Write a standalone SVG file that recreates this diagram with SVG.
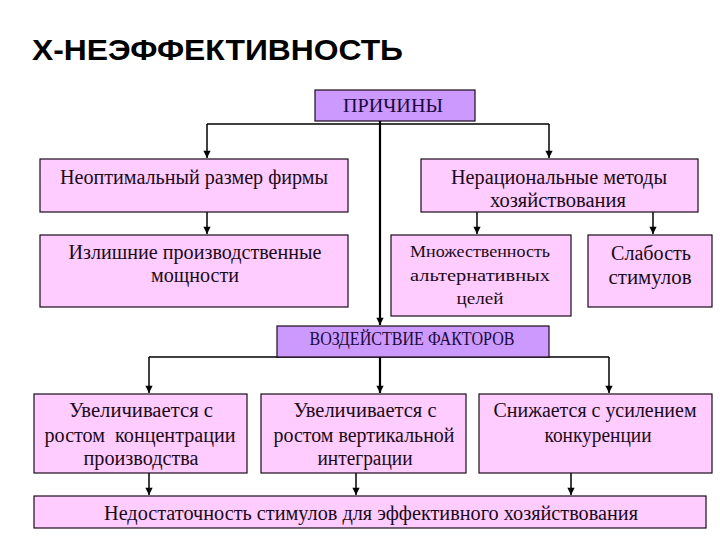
<svg xmlns="http://www.w3.org/2000/svg" width="720" height="540" viewBox="0 0 720 540">
<defs>
<marker id="ah" viewBox="0 0 8 10" refX="8" refY="5" markerWidth="8" markerHeight="9" markerUnits="userSpaceOnUse" orient="auto">
<path d="M0,1 L8,5 L0,9 z" fill="#000"/>
</marker>
<style>
.box{fill:#FFCCFF;stroke:#1a0a1a;stroke-width:1.2}
.hd{fill:#CC99FF;stroke:#1a0a1a;stroke-width:1.2}
.t{font-size:20px;fill:#1a0a1a;text-anchor:middle}
.s{font-size:18px;fill:#1a0a3a;text-anchor:middle}
.c{fill:none;stroke:#000;stroke-width:1.5}
</style>
</defs>
<rect width="720" height="540" fill="#fff"/>
<text x="32" y="60" font-family="'Liberation Sans', Arial, sans-serif" font-weight="bold" font-size="30" fill="#000" textLength="371" lengthAdjust="spacingAndGlyphs">Х-НЕЭФФЕКТИВНОСТЬ</text>

<g id="connectors">
<path class="c" d="M207,124 H549"/>
<path class="c" d="M207,124 V158" marker-end="url(#ah)"/>
<path class="c" d="M549,124 V158" marker-end="url(#ah)"/>
<path class="c" style="stroke-width:2.2" d="M380,121 V325" marker-end="url(#ah)"/>
<path class="c" d="M207,212 V234" marker-end="url(#ah)"/>
<path class="c" d="M477,212 V234" marker-end="url(#ah)"/>
<path class="c" d="M653,212 V234" marker-end="url(#ah)"/>
<path class="c" d="M149,357 H609"/>
<path class="c" d="M149,357 V393" marker-end="url(#ah)"/>
<path class="c" d="M609,357 V393" marker-end="url(#ah)"/>
<path class="c" style="stroke-width:2.2" d="M380,357 V393" marker-end="url(#ah)"/>
<path class="c" d="M149,473 V495" marker-end="url(#ah)"/>
<path class="c" d="M356,473 V495" marker-end="url(#ah)"/>
<path class="c" d="M571,473 V495" marker-end="url(#ah)"/>
</g>

<g font-family="'Liberation Serif', 'DejaVu Serif', 'Times New Roman', serif">
<g id="prichiny">
<rect class="hd" x="315" y="90" width="160" height="31"/>
<text class="s" x="393" y="111.5" textLength="100" lengthAdjust="spacingAndGlyphs">ПРИЧИНЫ</text>
</g>
<g id="n1">
<rect class="box" x="40" y="159" width="308" height="53"/>
<text class="t" x="194" y="184" textLength="268" lengthAdjust="spacingAndGlyphs">Неоптимальный размер фирмы</text>
</g>
<g id="n2">
<rect class="box" x="421" y="159" width="277" height="53"/>
<text class="t" x="559" y="184" textLength="216" lengthAdjust="spacingAndGlyphs">Нерациональные методы</text>
<text class="t" x="558" y="207" textLength="136" lengthAdjust="spacingAndGlyphs">хозяйствования</text>
</g>
<g id="n3">
<rect class="box" x="40" y="235" width="308" height="72"/>
<text class="t" x="195" y="259" textLength="253" lengthAdjust="spacingAndGlyphs">Излишние производственные</text>
<text class="t" x="195" y="282" textLength="88" lengthAdjust="spacingAndGlyphs">мощности</text>
</g>
<g id="n4">
<rect class="box" x="391" y="235" width="180" height="81"/>
<text class="t" x="480" y="257" style="font-size:17px" textLength="140" lengthAdjust="spacingAndGlyphs">Множественность</text>
<text class="t" x="480" y="281" style="font-size:17px" textLength="140" lengthAdjust="spacingAndGlyphs">альтернативных</text>
<text class="t" x="480" y="304" style="font-size:17px" textLength="47" lengthAdjust="spacingAndGlyphs">целей</text>
</g>
<g id="n5">
<rect class="box" x="588" y="235" width="124" height="72"/>
<text class="t" x="651" y="260" textLength="80" lengthAdjust="spacingAndGlyphs">Слабость</text>
<text class="t" x="650" y="284" textLength="83" lengthAdjust="spacingAndGlyphs">стимулов</text>
</g>
<g id="vozd">
<rect class="hd" x="277" y="326" width="272" height="31"/>
<text class="s" x="412" y="345" textLength="205" lengthAdjust="spacingAndGlyphs">ВОЗДЕЙСТВИЕ ФАКТОРОВ</text>
</g>
<g id="n6">
<rect class="box" x="34" y="394" width="213" height="79"/>
<text class="t" x="141" y="417" textLength="144" lengthAdjust="spacingAndGlyphs">Увеличивается с</text>
<text class="t" x="140" y="442" xml:space="preserve" textLength="191" lengthAdjust="spacingAndGlyphs">ростом  концентрации</text>
<text class="t" x="141" y="465" textLength="115" lengthAdjust="spacingAndGlyphs">производства</text>
</g>
<g id="n7">
<rect class="box" x="261" y="394" width="205" height="79"/>
<text class="t" x="365" y="417" textLength="143" lengthAdjust="spacingAndGlyphs">Увеличивается с</text>
<text class="t" x="364" y="442" textLength="181" lengthAdjust="spacingAndGlyphs">ростом вертикальной</text>
<text class="t" x="365" y="465" textLength="95" lengthAdjust="spacingAndGlyphs">интеграции</text>
</g>
<g id="n8">
<rect class="box" x="479" y="394" width="233" height="79"/>
<text class="t" x="595" y="417" textLength="203" lengthAdjust="spacingAndGlyphs">Снижается с усилением</text>
<text class="t" x="598" y="442" textLength="107" lengthAdjust="spacingAndGlyphs">конкуренции</text>
</g>
<g id="n9">
<rect class="box" x="34" y="496" width="672" height="32"/>
<text class="t" x="371" y="520" textLength="534" lengthAdjust="spacingAndGlyphs">Недостаточность стимулов для эффективного хозяйствования</text>
</g>
</g>
</svg>
